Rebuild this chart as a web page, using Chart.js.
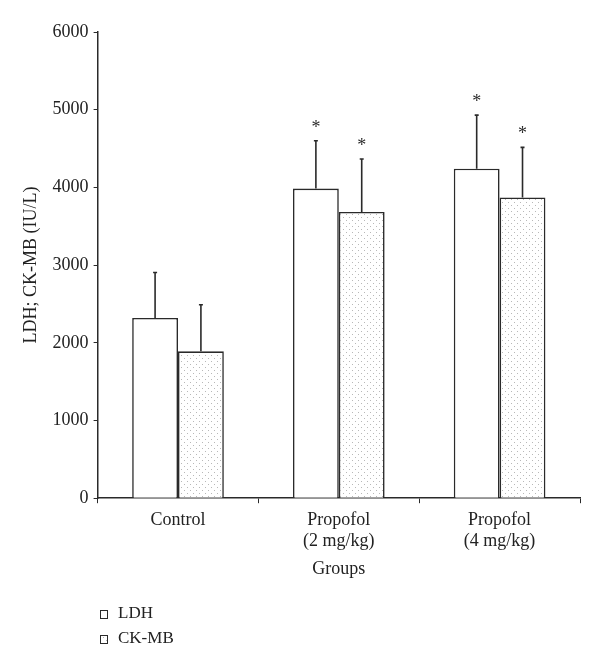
<!DOCTYPE html>
<html>
<head>
    <title>LDH; CK-MB</title>
    <script src="https://cdn.jsdelivr.net/npm/chart.js"></script>
    <style>
        body { margin: 0; background: #fff; }
        #wrap { width: 600px; height: 670px; }
    </style>
</head>
<body>
<div id="wrap"><canvas id="ckChart" width="600" height="670"></canvas></div>
<script>
    // data
    const groups = [['Control'], ['Propofol', '(2 mg/kg)'], ['Propofol', '(4 mg/kg)']];
    const ldhMean = [2320, 3985, 4240];
    const ldhSD = [585, 615, 690];
    const ckmbMean = [1890, 3685, 3870];
    const ckmbSD = [600, 680, 645];
    const ldhStar = [false, true, true];
    const ckmbStar = [false, true, true];
    const yTicks = [0, 1000, 2000, 3000, 4000, 5000, 6000];

    const FONT = "'Liberation Serif', 'DejaVu Serif', serif";
    const INK = '#2a2a2a';

    // light dotted fill for CK-MB
    function dotPattern() {
        const c = document.createElement('canvas');
        c.width = 6; c.height = 6;
        const g = c.getContext('2d');
        g.fillStyle = '#fff';
        g.fillRect(0, 0, 6, 6);
        g.fillStyle = '#b8b8b8';
        g.fillRect(1, 1, 1, 1);
        g.fillRect(4, 4, 1, 1);
        return g.createPattern(c, 'repeat');
    }

    const errorBars = {
        id: 'errorBars',
        afterDatasetsDraw(chart) {
            const ctx = chart.ctx;
            const y = chart.scales.y;
            const sds = [ldhSD, ckmbSD];
            const stars = [ldhStar, ckmbStar];
            ctx.save();
            chart.data.datasets.forEach((ds, di) => {
                const meta = chart.getDatasetMeta(di);
                meta.data.forEach((bar, i) => {
                    const top = y.getPixelForValue(ds.data[i] + sds[di][i]);
                    ctx.strokeStyle = INK;
                    ctx.lineWidth = 1.6;
                    ctx.beginPath();
                    ctx.moveTo(bar.x, bar.y);
                    ctx.lineTo(bar.x, top);
                    ctx.moveTo(bar.x - 2, top);
                    ctx.lineTo(bar.x + 2, top);
                    ctx.stroke();
                    if (stars[di][i]) {
                        ctx.fillStyle = INK;
                        ctx.font = '18px ' + FONT;
                        ctx.textAlign = 'center';
                        ctx.textBaseline = 'alphabetic';
                        ctx.fillText('*', bar.x, top - 8);
                    }
                });
            });
            ctx.restore();
        }
    };

    const sideLegend = {
        id: 'sideLegend',
        afterDraw(chart) {
            const ctx = chart.ctx;
            const items = [['LDH', '#fff'], ['CK-MB', dotPattern()]];
            ctx.save();
            items.forEach((it, k) => {
                const yy = 610 + k * 25;
                ctx.fillStyle = it[1];
                ctx.fillRect(100, yy, 7, 8);
                ctx.strokeStyle = INK;
                ctx.lineWidth = 1;
                ctx.strokeRect(100.5, yy + 0.5, 7, 8);
                ctx.fillStyle = '#222';
                ctx.font = '17px ' + FONT;
                ctx.textBaseline = 'middle';
                ctx.textAlign = 'left';
                ctx.fillText(it[0], 118, yy + 4);
            });
            ctx.restore();
        }
    };

    const ctx = document.getElementById('ckChart').getContext('2d');
    new Chart(ctx, {
        type: 'bar',
        data: {
            labels: groups,
            datasets: [{
                label: 'LDH',
                data: ldhMean,
                backgroundColor: '#fff',
                borderColor: INK,
                borderWidth: 1.6
            }, {
                label: 'CK-MB',
                data: ckmbMean,
                backgroundColor: dotPattern(),
                borderColor: INK,
                borderWidth: 1.6
            }]
        },
        options: {
            responsive: false,
            animation: false,
            layout: { padding: { left: 20, right: 20, top: 32, bottom: 86 } },
            datasets: { bar: { categoryPercentage: 0.57, barPercentage: 1.0 } },
            plugins: {
                legend: { display: false },
                tooltip: { enabled: false }
            },
            scales: {
                x: {
                    grid: { drawOnChartArea: false, drawTicks: true, tickLength: 5, color: INK, offset: true },
                    border: { display: true, color: INK, width: 1.5 },
                    ticks: { color: '#222', font: { family: FONT, size: 18 }, padding: 6 },
                    title: { display: true, text: 'Groups', color: '#222', font: { family: FONT, size: 18 }, padding: { top: 0 } }
                },
                y: {
                    min: 0,
                    max: 6000,
                    afterBuildTicks(axis) { axis.ticks = yTicks.map(v => ({ value: v })); },
                    grid: { drawOnChartArea: false, drawTicks: true, tickLength: 4, color: INK },
                    border: { display: true, color: INK, width: 1.5 },
                    ticks: { color: '#222', font: { family: FONT, size: 18 }, padding: 5, callback: v => String(v) },
                    title: { display: true, text: 'LDH; CK-MB (IU/L)', color: '#222', font: { family: FONT, size: 18 }, padding: { top: 0, bottom: 6 } }
                }
            }
        },
        plugins: [errorBars, sideLegend]
    });
</script>
</body>
</html>
